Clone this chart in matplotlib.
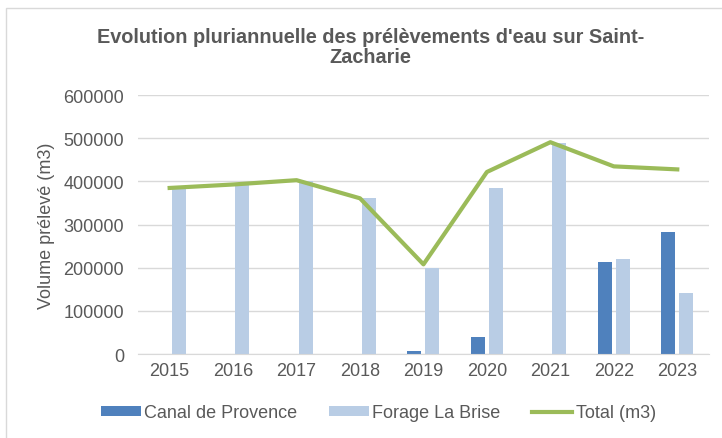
import matplotlib
matplotlib.use("Agg")
import matplotlib.pyplot as plt
import numpy as np
from matplotlib.patches import Rectangle

plt.rcParams.update({
    "font.family": ["Liberation Sans", "DejaVu Sans"],
    "text.color": "#595959",
    "axes.labelcolor": "#595959",
    "xtick.color": "#595959",
    "ytick.color": "#595959",
})

years = ["2015", "2016", "2017", "2018", "2019", "2020", "2021", "2022", "2023"]
canal = [0, 0, 0, 0, 7000, 39000, 0, 214000, 284000]
forage = [385000, 391000, 401000, 362000, 200000, 384000, 489000, 221000, 141000]
total = [385000, 393000, 403000, 361000, 208000, 422000, 491000, 435000, 428000]

c_canal = "#4F81BD"
c_forage = "#B9CDE5"
c_total = "#9BBB59"

fig = plt.figure(figsize=(7.22, 4.39), dpi=100)
ax = fig.add_axes([0.191, 0.191, 0.791, 0.590])

# chart frame
fig.patches.append(Rectangle((6 / 722, -0.1), 1.2, 1 - 9 / 439 + 0.1, transform=fig.transFigure,
                             fill=False, edgecolor="#D9D9D9", linewidth=1))

x = np.arange(len(years))
w = 0.22
b1 = ax.bar(x - 0.142, canal, width=w, color=c_canal, label="Canal de Provence", zorder=2)
b2 = ax.bar(x + 0.142, forage, width=w, color=c_forage, label="Forage La Brise", zorder=2)
l1, = ax.plot(x, total, color=c_total, linewidth=3, label="Total (m3)", zorder=3)

ax.set_xlim(-0.5, len(years) - 0.5)
ax.set_ylim(0, 600000)
ax.set_yticks(np.arange(0, 600001, 100000))
ax.set_xticks(x)
ax.set_xticklabels(years)
ax.tick_params(axis="both", length=0, labelsize=13)
ax.tick_params(axis="y", pad=10)
ax.tick_params(axis="x", pad=6)
ax.grid(axis="y", color="#D9D9D9", linewidth=1, zorder=0)
ax.set_axisbelow(True)
for side in ["top", "right", "left"]:
    ax.spines[side].set_visible(False)
ax.spines["bottom"].set_color("#D9D9D9")

ax.set_ylabel("Volume prélevé (m3)", fontsize=13, labelpad=6)

fig.text(0.513, 0.892, "Evolution pluriannuelle des prélèvements d'eau sur Saint-\nZacharie",
         ha="center", va="center", fontsize=14.3, fontweight="bold", color="#595959",
         linespacing=1.1)

fig.legend(handles=[b1, b2, l1], loc="center", bbox_to_anchor=(0.524, 0.057), ncol=3,
           frameon=False, fontsize=13, handlelength=2.2, handleheight=0.5,
           handletextpad=0.2, columnspacing=1.75)

fig.savefig("out.png", dpi=100)
